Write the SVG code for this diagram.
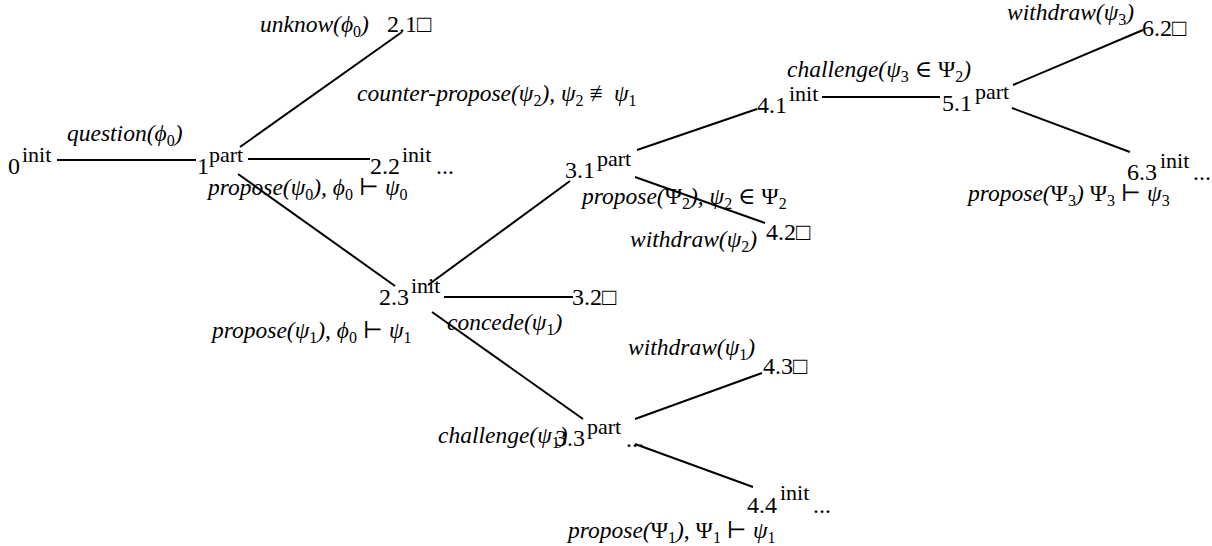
<svg xmlns="http://www.w3.org/2000/svg" width="1212" height="546" viewBox="0 0 1212 546" font-family="'Liberation Serif', 'DejaVu Serif', serif">
<style>
text{font-family:"Liberation Serif","DejaVu Serif","DejaVu Sans",serif;fill:#000}
.n{font-size:24px}
.s{font-size:22px}
.l{font-size:23.5px;font-style:italic}
.u{font-style:normal}
.b{font-size:16px;font-style:normal}
.e line{stroke:#000;stroke-width:2}
</style>
<rect width="1212" height="546" fill="#fff"/>
<g class="e" id="connectors">
<line x1="57" y1="160" x2="196" y2="160"/>
<line x1="248" y1="159" x2="370" y2="159"/>
<line x1="240" y1="147" x2="402" y2="32"/>
<line x1="238" y1="174" x2="395" y2="286"/>
<line x1="444" y1="297" x2="573" y2="297"/>
<line x1="428" y1="285" x2="570" y2="181"/>
<line x1="432" y1="312" x2="583" y2="419"/>
<line x1="637" y1="150" x2="757" y2="109"/>
<line x1="635" y1="177" x2="765" y2="223"/>
<line x1="822" y1="97" x2="940" y2="97"/>
<line x1="1013" y1="85" x2="1143" y2="30"/>
<line x1="1012" y1="108" x2="1130" y2="152"/>
<line x1="635" y1="419" x2="762" y2="373"/>
<line x1="635" y1="444" x2="753" y2="487"/>
</g>
<g id="labels">
<text class="l" x="67" y="141">question(ϕ<tspan class="b" dy="5">0</tspan><tspan dy="-5">)</tspan></text>
<text class="l" x="260" y="32">unknow(ϕ<tspan class="b" dy="5">0</tspan><tspan dy="-5">)</tspan></text>
<text class="l" x="357" y="101">counter-propose(ψ<tspan class="b" dy="5">2</tspan><tspan dy="-5">), ψ</tspan><tspan class="b" dy="5">2</tspan><tspan class="u" dy="-5"> ≢</tspan><tspan dx="1">ψ</tspan><tspan class="b" dy="5">1</tspan></text>
<text class="l" x="208" y="195">propose(ψ<tspan class="b" dy="5">0</tspan><tspan dy="-5">), ϕ</tspan><tspan class="b" dy="5">0</tspan><tspan class="u" dy="-5"> ⊢ </tspan>ψ<tspan class="b" dy="5">0</tspan></text>
<text class="l" x="212" y="338">propose(ψ<tspan class="b" dy="5">1</tspan><tspan dy="-5">), ϕ</tspan><tspan class="b" dy="5">0</tspan><tspan class="u" dy="-5"> ⊢ </tspan>ψ<tspan class="b" dy="5">1</tspan></text>
<text class="l" x="447" y="330">concede(ψ<tspan class="b" dy="5">1</tspan><tspan dy="-5">)</tspan></text>
<text class="l" x="787" y="77">challenge(ψ<tspan class="b" dy="5">3</tspan><tspan class="u" dy="-5"> ∈ Ψ</tspan><tspan class="b" dy="5">2</tspan><tspan dy="-5">)</tspan></text>
<text class="l" x="582" y="204">propose(<tspan class="u">Ψ</tspan><tspan class="b" dy="5">2</tspan><tspan dy="-5">), ψ</tspan><tspan class="b" dy="5">2</tspan><tspan class="u" dy="-5"> ∈ Ψ</tspan><tspan class="b" dy="5">2</tspan></text>
<text class="l" x="630" y="247">withdraw(ψ<tspan class="b" dy="5">2</tspan><tspan dy="-5">)</tspan></text>
<text class="l" x="1007" y="20">withdraw(ψ<tspan class="b" dy="5">3</tspan><tspan dy="-5">)</tspan></text>
<text class="l" x="968" y="201">propose(<tspan class="u">Ψ</tspan><tspan class="b" dy="5">3</tspan><tspan dy="-5">) </tspan><tspan class="u">Ψ</tspan><tspan class="b" dy="5">3</tspan><tspan class="u" dy="-5"> ⊢ </tspan>ψ<tspan class="b" dy="5">3</tspan></text>
<text class="l" x="628" y="355">withdraw(ψ<tspan class="b" dy="5">1</tspan><tspan dy="-5">)</tspan></text>
<text class="l" x="438" y="443">challenge(ψ<tspan class="b" dy="5">1</tspan><tspan dy="-5">)</tspan></text>
<text class="l" x="568" y="538">propose(<tspan class="u">Ψ</tspan><tspan class="b" dy="5">1</tspan><tspan dy="-5">), </tspan><tspan class="u">Ψ</tspan><tspan class="b" dy="5">1</tspan><tspan class="u" dy="-5"> ⊢ </tspan>ψ<tspan class="b" dy="5">1</tspan></text>
</g>
<g id="n0"><text class="n" x="8" y="174">0<tspan class="s" x="22" y="162">init</tspan></text></g>
<g id="n1"><text class="n" x="197" y="174">1<tspan class="s" x="209" y="162">part</tspan></text></g>
<g id="n2_1"><text class="n" x="387" y="32">2.1□</text></g>
<g id="n2_2"><text class="n" x="370" y="174">2.2<tspan class="s" x="402" y="162">init</tspan><tspan x="436" y="174">...</tspan></text></g>
<g id="n2_3"><text class="n" x="379" y="305">2.3<tspan class="s" x="411" y="293">init</tspan></text></g>
<g id="n3_1"><text class="n" x="565" y="178">3.1<tspan class="s" x="597" y="166">part</tspan></text></g>
<g id="n3_2"><text class="n" x="572" y="305">3.2□</text></g>
<g id="n3_3"><text class="n" x="555" y="446">3.3<tspan class="s" x="587" y="434">part</tspan><tspan x="626" y="447">...</tspan></text></g>
<g id="n4_1"><text class="n" x="757" y="113">4.1<tspan class="s" x="789" y="101">init</tspan></text></g>
<g id="n4_2"><text class="n" x="766" y="240">4.2□</text></g>
<g id="n4_3"><text class="n" x="763" y="374">4.3□</text></g>
<g id="n4_4"><text class="n" x="747" y="513">4.4<tspan class="s" x="780" y="500">init</tspan><tspan x="813" y="513">...</tspan></text></g>
<g id="n5_1"><text class="n" x="942" y="111">5.1<tspan class="s" x="975" y="99">part</tspan></text></g>
<g id="n6_2"><text class="n" x="1142" y="36">6.2□</text></g>
<g id="n6_3"><text class="n" x="1127" y="180">6.3<tspan class="s" x="1160" y="168">init</tspan><tspan x="1193" y="180">...</tspan></text></g>
</svg>
